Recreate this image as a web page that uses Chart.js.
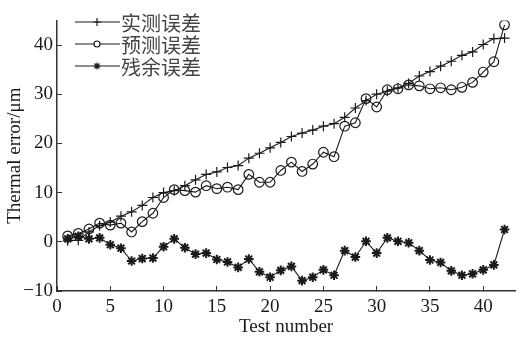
<!DOCTYPE html>
<html>
<head>
<meta charset="utf-8">
<script src="https://cdn.jsdelivr.net/npm/chart.js@4"></script>
<style>
  body { margin: 0; background: #fff; }
  #wrap { width: 522px; height: 340px; }
</style>
</head>
<body>
<div id="wrap"><canvas id="thermal-chart" width="522" height="340"></canvas></div>
<script>
// test runs 1..42
var testNo = [1, 2, 3, 4, 5, 6, 7, 8, 9, 10, 11, 12, 13, 14, 15, 16, 17, 18, 19, 20, 21,
    22, 23, 24, 25, 26, 27, 28, 29, 30, 31, 32, 33, 34, 35, 36, 37, 38, 39, 40, 41, 42];

var measured = [0.2, 0.3, 2.0, 3.3, 4.0, 5.2, 6.1, 7.4, 9.0, 10.0, 10.4, 11.4, 12.6, 13.7, 14.2,
    15.1, 15.5, 17.0, 18.0, 19.1, 20.2, 21.4, 22.1, 22.7, 23.5, 24.0, 25.3, 27.2, 28.7, 30.0,
    30.6, 31.3, 32.2, 33.7, 34.6, 35.7, 36.7, 37.9, 38.6, 40.1, 41.3, 41.4];

var predicted = [1.2, 1.7, 2.6, 3.8, 3.4, 3.8, 2.0, 4.1, 5.8, 9.0, 10.6, 10.4, 10.1, 11.4, 10.8,
    11.1, 10.6, 13.7, 12.1, 12.1, 14.5, 16.2, 14.3, 15.8, 18.2, 17.3, 23.5, 24.2, 29.1, 27.4,
    30.9, 31.1, 31.9, 31.7, 31.1, 31.3, 30.9, 31.4, 32.4, 34.5, 36.6, 44.1];

var residual = [0.6, 1.1, 0.6, 0.8, -0.6, -1.3, -3.9, -3.4, -3.3, -1.0, 0.6, -1.2, -2.5, -2.3, -3.6,
    -4.1, -5.2, -3.5, -6.1, -7.2, -5.8, -5.0, -7.9, -7.2, -5.7, -6.8, -1.8, -3.1, 0.1, -2.3,
    0.8, 0.1, -0.2, -1.8, -3.7, -4.2, -5.9, -6.8, -6.5, -5.7, -4.7, 2.5];

var seriesNames = ['实测误差', '预测误差', '残余误差'];
var xTicks = [0, 5, 10, 15, 20, 25, 30, 35, 40];
var yTicks = [-10, 0, 10, 20, 30, 40];

var ink = '#1a1a1a';
var axisInk = '#333';
var serif = '"Liberation Serif", "DejaVu Serif", serif';

function points(values) {
    return testNo.map(function (n, i) { return { x: n, y: values[i] }; });
}

var data = {
    datasets: [{
        label: seriesNames[0],
        data: points(measured),
        pointStyle: 'cross',
        pointRadius: 5,
        pointBorderWidth: 1.2,
        legendRadius: 4,
    }, {
        label: seriesNames[1],
        data: points(predicted),
        pointStyle: 'circle',
        pointRadius: 4.8,
        pointBorderWidth: 1.2,
        legendRadius: 3,
    }, {
        label: seriesNames[2],
        data: points(residual),
        pointStyle: 'star',
        pointRadius: 4.8,
        pointBorderWidth: 2,
        legendRadius: 3.5,
    }]
};

data.datasets.forEach(function (ds) {
    ds.borderColor = ink;
    ds.backgroundColor = 'rgba(0,0,0,0)';
    ds.borderWidth = 1.1;
    ds.pointBorderColor = ink;
    ds.pointBackgroundColor = 'rgba(0,0,0,0)';
    ds.tension = 0;
});

// legend drawn in the upper-left corner of the plot: line sample + marker + name
var cornerLegend = {
    id: 'cornerLegend',
    afterDraw: function (chart) {
        var ctx = chart.ctx;
        var rows = [22, 44, 66];
        ctx.save();
        chart.data.datasets.forEach(function (ds, i) {
            var y = rows[i];
            ctx.strokeStyle = ink;
            ctx.lineWidth = 1.2;
            ctx.beginPath();
            ctx.moveTo(75, y);
            ctx.lineTo(120, y);
            ctx.stroke();
            ctx.fillStyle = ds.pointStyle === 'circle' ? '#fff' : ink;
            Chart.helpers.drawPoint(ctx, {
                pointStyle: ds.pointStyle,
                radius: ds.legendRadius,
                borderWidth: ds.pointBorderWidth,
                rotation: 0
            }, 97, y);
            ctx.fillStyle = '#444';
            ctx.font = '20px "Noto Sans CJK SC"';
            ctx.textBaseline = 'middle';
            ctx.textAlign = 'left';
            ctx.fillText(ds.label, 121, y + 1);
        });
        ctx.restore();
    }
};

// typographic minus on negative tick labels
function tickText(value) {
    return String(value).replace('-', '\u2212');
}

var layout = {
    type: 'line',
    data: data,
    options: {
        responsive: false,
        animation: false,
        layout: {
            padding: { top: 6, right: 1, left: 0, bottom: 0 }
        },
        plugins: {
            legend: { display: false },
            tooltip: { enabled: false },
        },
        scales: {
            x: {
                type: 'linear',
                min: 0,
                max: 43,
                afterBuildTicks: function (scale) {
                    scale.ticks = xTicks.map(function (v) { return { value: v }; });
                },
                afterFit: function (scale) { scale.height = 49; },
                grid: {
                    drawOnChartArea: false,
                    tickLength: -5,
                    color: axisInk,
                    lineWidth: 1,
                },
                border: { color: axisInk, width: 1.5 },
                ticks: {
                    padding: 10,
                    color: ink,
                    font: { family: serif, size: 19 },
                    maxRotation: 0,
                    callback: tickText,
                },
                title: {
                    display: true,
                    text: 'Test number',
                    color: ink,
                    font: { family: serif, size: 19 },
                    padding: { top: 0, bottom: 2 },
                },
            },
            y: {
                min: -10,
                max: 45,
                afterBuildTicks: function (scale) {
                    scale.ticks = yTicks.map(function (v) { return { value: v }; });
                },
                afterFit: function (scale) { scale.width = 57; },
                grid: {
                    drawOnChartArea: false,
                    tickLength: -5,
                    color: axisInk,
                    lineWidth: 1,
                },
                border: { color: axisInk, width: 1.5 },
                ticks: {
                    padding: 9,
                    color: ink,
                    font: { family: serif, size: 19 },
                    callback: tickText,
                },
                title: {
                    display: true,
                    text: 'Thermal error/μm',
                    color: ink,
                    font: { family: serif, size: 19 },
                    padding: { top: 4, bottom: 0 },
                },
            },
        },
    },
    plugins: [cornerLegend]
};

const thermalChart = document.getElementById('thermal-chart');
new Chart(thermalChart, layout);
</script>
</body>
</html>
